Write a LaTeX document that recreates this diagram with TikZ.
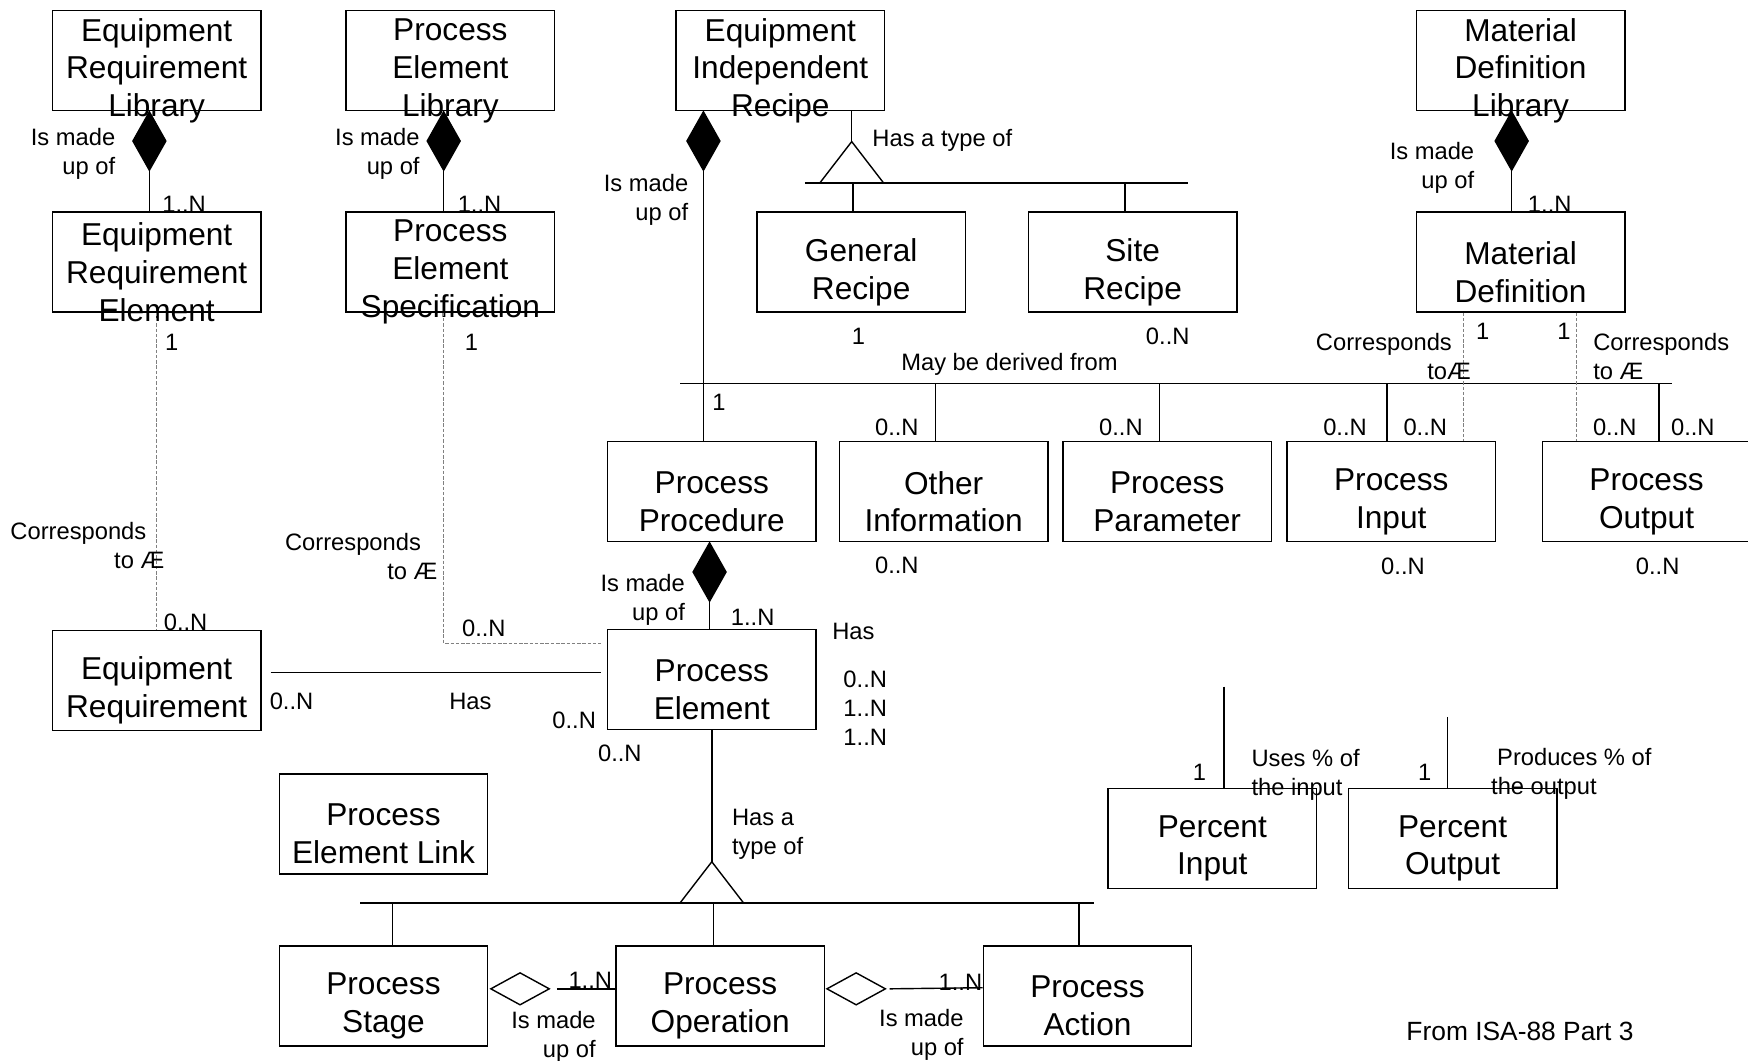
\documentclass[tikz,border=0pt]{standalone}
\usepackage{fontspec}
\setmainfont{Liberation Sans}
\usepackage{tikz}
\usetikzlibrary{shapes.geometric, calc}

\tikzset{
    cls/.style={draw, line width=.8pt, minimum width=4.17cm, minimum height=2cm, inner sep=0pt},
    clstext/.style={align=center, inner sep=0pt, font=\fontsize{18}{21.5}\selectfont},
    lbl/.style={inner sep=0pt, font=\fontsize{13.5}{16.5}\selectfont},
    comp/.style={diamond, draw, fill=black, inner sep=0pt, minimum width=.67cm, minimum height=1.18cm},
    agg/.style={diamond, draw, fill=white, inner sep=0pt, minimum width=1.18cm, minimum height=.65cm},
    corr/.style={draw=gray, dash pattern=on 2pt off 1pt, line width=.5pt}
}

\begin{document}
\begin{tikzpicture}[x=0.0223cm, y=-0.0223cm, line width=.8pt]
    \useasboundingbox (0,0) rectangle (1568,951);

    % Kaesten.
    \foreach \nm/\x/\y/\txt in {
        erl/140.5/54.5/{Equipment\\Requirement\\Library},
        pel/404/54.5/{Process\\Element\\Library},
        eir/700/54.5/{Equipment\\Independent\\Recipe},
        mdl/1364/54.5/{Material\\Definition\\Library},
        ere/140.5/235/{Equipment\\Requirement\\Element},
        pes/404/235/{Process\\Element\\Specification},
        gr/772.5/235/{General\\Recipe},
        sr/1016/235/{Site\\Recipe},
        md/1364/235/{Material\\Definition},
        pp/638.5/441/{Process\\Procedure},
        oi/846.5/441/{Other\\Information},
        ppar/1047/441/{Process\\Parameter},
        pin/1248/441/{Process\\Input},
        pout/1477/441/{Process\\Output},
        er/140.5/610.5/{Equipment\\Requirement},
        pe/638.5/609.5/{Process\\Element},
        pelink/344/739/{Process\\Element Link},
        ps/344/893.5/{Process\\Stage},
        pop/646/893.5/{Process\\Operation},
        pa/975.5/893.5/{Process\\Action},
        pinp/1087.5/752/{Percent\\Input},
        poutp/1303/752/{Percent\\Output}}
    {
        \node[cls] (\nm) at (\x,\y) {};
        \node[clstext] (\nm-t) at ([yshift=-.2cm]\nm.center) {\txt};
    }

    % Komposition.
    \node[comp, anchor=north] (c1) at (134,99.4) {};
    \node[comp, anchor=north] (c2) at (398,99.4) {};
    \node[comp, anchor=north] (c3) at (631,99.4) {};
    \node[comp, anchor=north] (c4) at (1356,99.4) {};
    \node[comp, anchor=north] (c5) at (636.5,486) {};
    \draw (c1.south) -- (c1.south |- ere.north);
    \draw (c2.south) -- (c2.south |- pes.north);
    \draw (c3.south) -- (c3.south |- pp.north);
    \draw (c4.south) -- (c4.south |- md.north);
    \draw (c5.south) -- (c5.south |- pe.north);

    % Typen.
    \coordinate (t1) at (764,127);
    \coordinate (b1l) at (722,164);
    \coordinate (b1r) at (1066,164);
    \draw (eir.south -| t1) -- (t1);
    \draw (t1) -- ++(-28.5,37) -- ++(57,0) -- cycle;
    \draw (b1l) -- (b1r);
    \foreach \nm/\dx in {gr/-7.5, sr/-7}
    {
        \draw ($(\nm.north)+(\dx,0)$) coordinate (br) -- (br |- b1l);
    }

    \coordinate (t2) at (638.5,773);
    \coordinate (b3l) at (323,810);
    \coordinate (b3r) at (981,810);
    \draw (pe.south) -- (t2);
    \draw (t2) -- ++(-28.5,37) -- ++(57,0) -- cycle;
    \draw (b3l) -- (b3r);
    \foreach \nm/\dx in {ps/8, pop/-6, pa/-7.5}
    {
        \draw ($(\nm.north)+(\dx,0)$) coordinate (br) -- (br |- b3l);
    }

    % Abgeleitet.
    \coordinate (b2l) at (610,344);
    \coordinate (b2r) at (1500,344);
    \draw (b2l) -- (b2r);
    \foreach \nm/\dx in {oi/-7.5, ppar/-7, pin/-4, pout/11}
    {
        \draw ($(\nm.north)+(\dx,0)$) coordinate (br) -- (br |- b2l);
    }

    % Entspricht.
    \draw[corr] ($(ere.south)+(-.5,0)$) -- ($(er.north)+(-.5,0)$);
    \draw[corr] ($(pes.south)+(-6,0)$) |- ($(pe.west)+(-5,-32.5)$);
    \coordinate (m1) at ($(md.south)+(-51,0)$);
    \coordinate (m2) at ($(md.south)+(50,0)$);
    \draw[corr] (m1) -- (m1 |- pin.north);
    \draw[corr] (m2) -- (m2 |- pout.north);

    % Hat.
    \draw ($(er.east)+(8,-7.5)$) -- ($(pe.west)+(-5,-6.5)$);

    % Aggregation.
    \node[agg] (a1) at (466.5,887) {};
    \node[agg] (a2) at (768,887) {};
    \draw ($(a1.east)+(6,0)$) -- (a1.east -| pop.west);
    \draw ($(a2.east)+(3,0)$) -- ($(pa.west)+(0,-7.5)$);

    % Prozent.
    \coordinate (pi0) at (1098,616);
    \coordinate (po0) at (1298.5,643);
    \draw (pi0) -- (pi0 |- pinp.north);
    \draw (po0) -- (po0 |- poutp.north);

    % Beschriftung.
    \foreach \x/\y [count=\i] in {1047.5/302, 804.5/383, 1005.5/383, 1206.5/383, 1278.5/383,
        1448.5/383, 1518.5/383, 804.5/507, 1258.5/508, 1487/508, 515/646, 556/676,
        166.5/558, 434/564, 261.5/629}
    {
        \node[lbl] (z\i) at (\x,\y) {0..N};
    }

    \node[lbl, align=right, anchor=east] (m1a) at (104,138) {Is made\\up of};
    \node[lbl, anchor=west] (m1b) at (145,183) {1..N};
    \node[lbl, align=right, anchor=east] (m2a) at (377,138) {Is made\\up of};
    \node[lbl, anchor=west] (m2b) at (410,183) {1..N};
    \node[lbl, align=right, anchor=east] (m3a) at (618,179.5) {Is made\\up of};
    \node[lbl, anchor=west] (m3b) at (782,126) {Has a type of};
    \node[lbl, align=right, anchor=east] (m4a) at (1323,150.5) {Is made\\up of};
    \node[lbl, anchor=west] (m4b) at (1370,183) {1..N};

    \node[lbl] (e1) at (154,307) {1};
    \node[lbl] (e2) at (423,307) {1};
    \node[lbl] (e3) at (770,302) {1};
    \node[lbl] (e4) at (1330,297.5) {1};
    \node[lbl] (e5) at (1403,297.5) {1};
    \node[lbl] (e6) at (645,361) {1};
    \node[lbl] (derived) at (905.5,327) {May be derived from};

    \node[lbl, align=right, anchor=east] (k1) at (1320,320) {Corresponds\hspace*{.38cm}\\toÆ};
    \node[lbl, align=left, anchor=west] (k2) at (1428.6,320) {Corresponds\\to Æ};
    \node[lbl, align=right, anchor=east] (k3) at (148,489) {Corresponds\hspace*{.36cm}\\to Æ};
    \node[lbl, align=right, anchor=east] (k4) at (393,499.5) {Corresponds\hspace*{.33cm}\\to Æ};

    \node[lbl, align=right, anchor=east] (m5a) at (615,538) {Is made\\up of};
    \node[lbl, anchor=west] (m5b) at (655,554) {1..N};
    \node[lbl, anchor=west] (h1) at (746,566) {Has};
    \node[lbl, align=left, anchor=west] (h2) at (756,635.5) {0..N\\1..N\\1..N};
    \node[lbl] (h3) at (422,629) {Has};

    \node[lbl, align=left, anchor=west] (ty) at (656,748) {Has a\\type of};
    \node[lbl] (m6b) at (529.5,879) {1..N};
    \node[lbl, align=right, anchor=east] (m6a) at (535,930) {Is made\\up of};
    \node[lbl] (m7b) at (861.5,881) {1..N};
    \node[lbl, align=right, anchor=east] (m7a) at (865,928) {Is made\\up of};

    \node[lbl] (p1) at (1076,693) {1};
    \node[lbl, align=left, anchor=west] (p2) at (1122,695) {Uses \% of\\the input};
    \node[lbl] (p3) at (1278,693) {1};
    \node[lbl, align=left, anchor=west] (p4) at (1337,694) {\hspace*{.12cm}Produces \% of\\the output};

    \node[lbl, font=\fontsize{15}{18}\selectfont] (src) at (1363.5,925) {From ISA-88 Part 3};
\end{tikzpicture}
\end{document}
